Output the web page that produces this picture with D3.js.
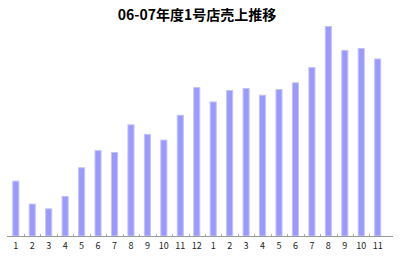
<!DOCTYPE html>
<html>
<head>
<meta charset="utf-8">
<script src="https://cdn.jsdelivr.net/npm/d3@7"></script>
<style>
  body { margin: 0; background: #fff; }
  svg { display: block; }
</style>
</head>
<body>
<svg></svg>
<script>
var title = '06-07年度1号店売上推移';
var months = ['1','2','3','4','5','6','7','8','9','10','11','12','1','2','3','4','5','6','7','8','9','10','11'];
var sales = [58, 34, 29, 42, 72, 90, 88, 117, 107, 101, 127, 156, 141, 153, 155, 148, 154, 161, 177, 220, 195, 197, 186];

var width = 400;
var height = 257;

var svg = d3.select('svg')
  .attr('width', width)
  .attr('height', height);

var x = d3.scaleBand()
  .domain(months.map((m, i) => i))
  .range([7.5, 386])
  .paddingInner(0.57)
  .paddingOuter(0.29);

var y = d3.scaleLinear()
  .domain([0, 220])
  .range([236, 26]);

svg.append('text')
  .attr('x', 197)
  .attr('y', 20)
  .attr('text-anchor', 'middle')
  .style('font-family', '"Noto Sans CJK JP", sans-serif')
  .style('font-size', '14px')
  .style('font-weight', 'bold')
  .text(title);

svg.selectAll('.bar')
  .data(sales)
  .enter()
  .append('rect')
  .classed('bar', true)
  .attr('x', (d, i) => x(i) + 0.5)
  .attr('y', d => y(d) + 0.5)
  .attr('width', x.bandwidth() - 1)
  .attr('height', d => y(0) - y(d) - 0.5)
  .attr('fill', '#9999ff')
  .attr('stroke', '#c4c4f4')
  .attr('stroke-width', 1);

// baseline
svg.append('line')
  .attr('x1', 7)
  .attr('x2', 393)
  .attr('y1', 236.5)
  .attr('y2', 236.5)
  .attr('stroke', '#999');

// small ticks between bars
var step = x.step();
svg.selectAll('.tick')
  .data(months.slice(1))
  .enter()
  .append('line')
  .classed('tick', true)
  .attr('x1', (d, i) => Math.round(x(i + 1) - (step - x.bandwidth()) / 2) + 0.5)
  .attr('x2', (d, i) => Math.round(x(i + 1) - (step - x.bandwidth()) / 2) + 0.5)
  .attr('y1', 234)
  .attr('y2', 236)
  .attr('stroke', '#aaa');

svg.selectAll('.label')
  .data(months)
  .enter()
  .append('text')
  .classed('label', true)
  .attr('x', (d, i) => x(i) + x.bandwidth() / 2)
  .attr('y', 249)
  .attr('text-anchor', 'middle')
  .style('font-family', '"Noto Sans CJK JP", sans-serif')
  .style('font-size', '9px')
  .attr('fill', '#222')
  .text(d => d);
</script>
</body>
</html>
